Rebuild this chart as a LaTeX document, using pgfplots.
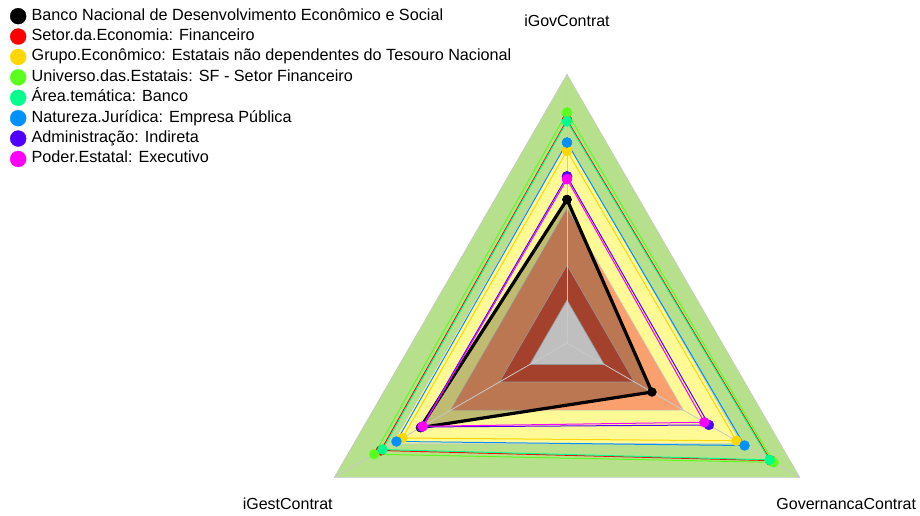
\documentclass[border=0pt]{standalone}
\usepackage{fontspec}
\setmainfont{Liberation Sans}
\usepackage{pgfplots}
\pgfplotsset{compat=1.18}
\usepgfplotslibrary{polar}

% bands
\definecolor{bandgreen}{RGB}{183,224,140}
\definecolor{bandyellow}{RGB}{255,250,150}
\definecolor{bandorange}{RGB}{250,160,110}
\definecolor{bandred}{RGB}{220,87,60}
\definecolor{gridgray}{RGB}{200,200,200}
% series
\definecolor{sred}{RGB}{255,0,0}
\definecolor{syellow}{RGB}{255,215,0}
\definecolor{sgreen}{RGB}{90,255,30}
\definecolor{scyan}{RGB}{0,255,140}
\definecolor{sblue}{RGB}{0,145,255}
\definecolor{spurple}{RGB}{80,0,255}
\definecolor{smagenta}{RGB}{255,0,255}

\pgfplotsset{
  serie/.style={color=#1, line width=1pt, mark=*, mark size=5pt,
    mark options={solid, line width=0.3pt, draw=#1, fill=#1}},
  band/.style={fill=#1, draw=gridgray, line width=0.6pt, forget plot},
}

\begin{document}
\begin{tikzpicture}[font=\fontsize{16}{19}\selectfont]
\begin{polaraxis}[
    at={(567pt,172pt)}, anchor=center,
    scale only axis, width=537.4pt, height=537.4pt,
    xmin=0, xmax=360, ymin=0, ymax=1,
    hide axis, clip=false,
    legend cell align=left,
    legend style={at={(-0.5365,1.1253)}, anchor=north west,
      draw=none, fill=none, inner sep=0pt, row sep=2.4pt,
      font=\fontsize{16.2}{19}\selectfont,
      nodes={inner ysep=1.5pt, inner xsep=5.5pt, text height=11.5pt, text depth=3.5pt}},
    legend image code/.code={\draw[#1, mark size=8pt] plot coordinates {(4pt,0pt)};},
  ]
  % fundo em faixas
  \addplot[band=bandgreen] coordinates {(90,1)(210,1)(330,1)(90,1)};
  \addplot[band=bandyellow] coordinates {(90,0.75)(210,0.75)(330,0.75)(90,0.75)};
  \addplot[band=bandorange] coordinates {(90,0.5)(210,0.5)(330,0.5)(90,0.5)};
  \addplot[band=bandred] coordinates {(90,0.29)(210,0.29)(330,0.29)(90,0.29)};
  \addplot[band=white] coordinates {(90,0.16)(210,0.16)(330,0.16)(90,0.16)};
  % area da entidade
  \addplot[fill=black, fill opacity=0.25, draw=none, forget plot]
    coordinates {(90,0.534)(210,0.63)(330,0.365)(90,0.534)};
  % eixos
  \addplot[gridgray, line width=0.8pt, forget plot] coordinates {(90,0)(90,1)};
  \addplot[gridgray, line width=0.8pt, forget plot] coordinates {(210,0)(210,1)};
  \addplot[gridgray, line width=0.8pt, forget plot] coordinates {(330,0)(330,1)};

  \addplot[serie=black, line width=3.2pt, mark size=4.5pt]
    coordinates {(90,0.534)(210,0.63)(330,0.365)(90,0.534)};
  \addlegendentry{Banco Nacional de Desenvolvimento Econômico e Social}
  \addplot[serie=sred] coordinates {(90,0.83)(210,0.80)(330,0.875)(90,0.83)};
  \addlegendentry{Setor.da.Economia: Financeiro}
  \addplot[serie=syellow] coordinates {(90,0.716)(210,0.707)(330,0.728)(90,0.716)};
  \addlegendentry{Grupo.Econômico: Estatais não dependentes do Tesouro Nacional}
  \addplot[serie=sgreen] coordinates {(90,0.858)(210,0.828)(330,0.888)(90,0.858)};
  \addlegendentry{Universo.das.Estatais: SF - Setor Financeiro}
  \addplot[serie=scyan] coordinates {(90,0.825)(210,0.793)(330,0.87)(90,0.825)};
  \addlegendentry{Área.temática: Banco}
  \addplot[serie=sblue] coordinates {(90,0.746)(210,0.733)(330,0.763)(90,0.746)};
  \addlegendentry{Natureza.Jurídica: Empresa Pública}
  \addplot[serie=spurple] coordinates {(90,0.62)(210,0.625)(330,0.61)(90,0.62)};
  \addlegendentry{Administração: Indireta}
  \addplot[serie=smagenta] coordinates {(90,0.61)(210,0.62)(330,0.59)(90,0.61)};
  \addlegendentry{Poder.Estatal: Executivo}

  \node at (axis cs:90,1.2) {iGovContrat};
  \node at (axis cs:210,1.2) {iGestContrat};
  \node at (axis cs:330,1.2) {GovernancaContrat};
\end{polaraxis}
\pgfresetboundingbox
\path[use as bounding box] (0pt,0pt) rectangle (920pt,515pt);
\end{tikzpicture}
\end{document}
